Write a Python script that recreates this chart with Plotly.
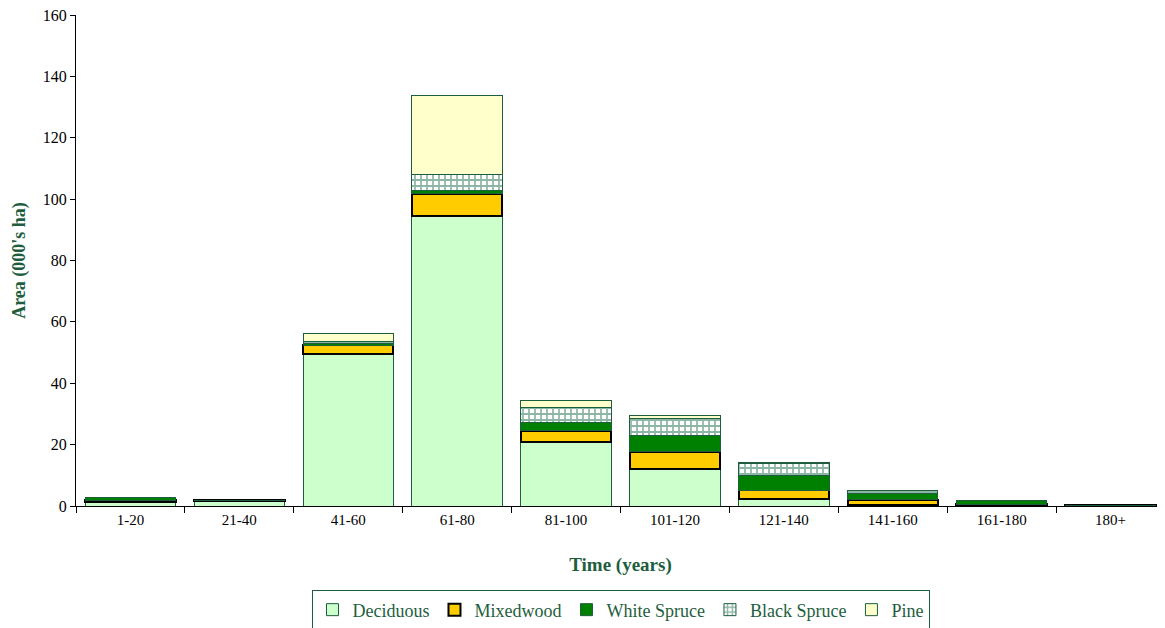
import plotly.graph_objects as go

categories = ["1-20", "21-40", "41-60", "61-80", "81-100", "101-120", "121-140", "141-160", "161-180", "180+"]
deciduous = [1.4, 1.5, 49.6, 94.6, 20.8, 12.2, 2.2, 0.3, 0.2, 0.0]
mixedwood = [0.4, 0.3, 2.8, 7.1, 3.8, 5.5, 2.9, 1.7, 0.3, 0.2]
white_spruce = [0.9, 0.05, 0.6, 1.0, 2.7, 5.2, 5.0, 2.0, 1.2, 0.05]
black_spruce = [0.0, 0.0, 0.5, 5.3, 4.9, 5.7, 3.9, 0.9, 0.2, 0.0]
pine = [0.0, 0.0, 2.6, 25.8, 2.3, 0.8, 0.1, 0.1, 0.0, 0.0]

dark = "#1E5E3E"
font_serif = "Liberation Serif"

fig = go.Figure()
fig.add_bar(name="Deciduous", x=categories, y=deciduous,
            marker=dict(color="#CCFFCC", line=dict(color=dark, width=1)))
fig.add_bar(name="Mixedwood", x=categories, y=mixedwood,
            marker=dict(color="#FFCC00", line=dict(color="#000000", width=2)))
fig.add_bar(name="White Spruce", x=categories, y=white_spruce,
            marker=dict(color="#008000", line=dict(color=dark, width=1)))
fig.add_bar(name="Black Spruce", x=categories, y=black_spruce,
            marker=dict(color="#FFFFFF", line=dict(color=dark, width=1),
                        pattern=dict(shape="+", fgcolor="#1E6E4E", bgcolor="#FFFFFF",
                                     size=6, solidity=0.5)))
fig.add_bar(name="Pine", x=categories, y=pine,
            marker=dict(color="#FFFFCC", line=dict(color=dark, width=1)))

# page body has an 8px default margin, so the figure is sized to the remaining area
fig.update_layout(
    barmode="stack",
    bargap=0.17,
    width=1157, height=620,
    margin=dict(l=68, r=0, t=7, b=122, autoexpand=False),
    plot_bgcolor="white", paper_bgcolor="white",
    font=dict(family=font_serif, size=15, color="black"),
    showlegend=True,
    legend=dict(orientation="h", x=0.5, xanchor="center", y=-0.172, yanchor="top",
                bordercolor=dark, borderwidth=1,
                font=dict(family=font_serif, size=18, color=dark),
                itemwidth=30, traceorder="normal", tracegroupgap=0),
    xaxis=dict(showline=True, linecolor="#000000", linewidth=1,
               ticks="outside", ticklen=6, tickcolor="black", tickson="boundaries",
               title=dict(text="<b>Time (years)</b>", font=dict(family=font_serif, size=19, color=dark),
                          standoff=30),
               tickfont=dict(family=font_serif, size=15, color="black")),
    yaxis=dict(range=[0, 160], dtick=20, showline=True, linecolor="#000000", linewidth=1,
               ticks="outside", ticklen=5, tickcolor="black", showgrid=False, zeroline=False,
               ticklabeloverflow="allow",
               title=dict(text="<b>Area (000's ha)</b>", font=dict(family=font_serif, size=18, color=dark),
                          standoff=12),
               tickfont=dict(family=font_serif, size=16, color="black")),
)

fig.write_html("out.html")
